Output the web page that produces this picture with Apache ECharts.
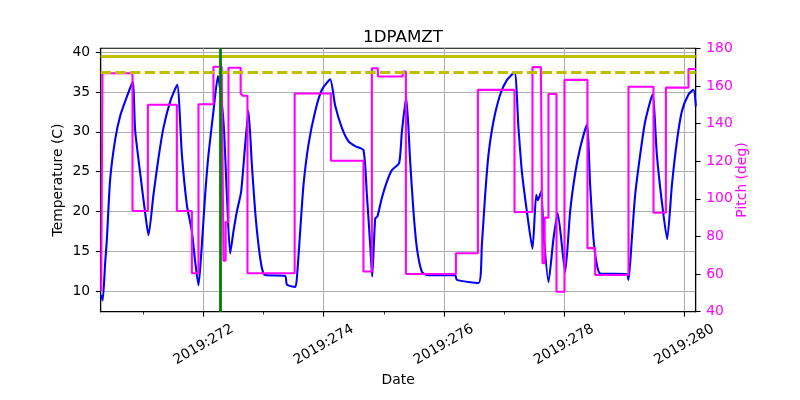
<!DOCTYPE html>
<html>
<head>
<meta charset="utf-8">
<script src="https://cdn.jsdelivr.net/npm/echarts@6/dist/echarts.min.js"></script>
<style>html,body{margin:0;padding:0;background:#fff}#c{width:800px;height:400px}</style>
</head>
<body>
<div id="c"></div>
<script>
// Temperature 1DPAMZT: [day of year 2019, degC]
const tempSeries = [
  [270.298, 9.5], [270.323, 8.8], [270.364, 13.5], [270.392, 16.4], [270.447, 24.0], [270.530, 29.0],
  [270.614, 32.0], [270.725, 34.4], [270.822, 36.3], [270.863, 30.2], [270.947, 24.8], [271.030, 19.8],
  [271.085, 17.0], [271.168, 22.1], [271.251, 26.7], [271.334, 30.5], [271.446, 33.8], [271.562, 35.9],
  [271.641, 27.1], [271.724, 20.8], [271.807, 17.5], [271.862, 13.7], [271.917, 10.7], [271.973, 15.8],
  [272.028, 22.1], [272.083, 27.1], [272.166, 32.6], [272.240, 37.0], [272.333, 31.3], [272.389, 22.1],
  [272.444, 14.7], [272.499, 17.5], [272.556, 20.0], [272.627, 22.5], [272.694, 28.4], [272.749, 32.6],
  [272.805, 25.9], [272.860, 20.0], [272.915, 15.8], [272.972, 12.9], [273.027, 12.0], [273.359, 11.9],
  [273.388, 10.8], [273.526, 10.5], [273.554, 11.6], [273.609, 17.5], [273.664, 23.3], [273.747, 28.4],
  [273.859, 32.6], [273.970, 35.3], [274.108, 36.6], [274.191, 33.3], [274.303, 30.5], [274.413, 28.8],
  [274.524, 28.2], [274.662, 27.7], [274.719, 22.1], [274.774, 15.8], [274.807, 11.8], [274.857, 19.1],
  [274.895, 19.4], [274.968, 21.7], [275.052, 23.75], [275.135, 25.2], [275.256, 26.1], [275.301, 30.0],
  [275.373, 34.4], [275.439, 26.3], [275.494, 20.0], [275.551, 15.4], [275.634, 12.4], [275.717, 12.0],
  [276.188, 12.0], [276.216, 11.4], [276.576, 11.0], [276.632, 15.8], [276.687, 22.1], [276.742, 27.1],
  [276.825, 31.3], [276.937, 34.7], [277.048, 36.5], [277.175, 37.5], [277.241, 30.5], [277.298, 25.0],
  [277.381, 20.0], [277.474, 15.3], [277.536, 22.1], [277.564, 21.4], [277.619, 22.5], [277.657, 17.5],
  [277.740, 11.1], [277.824, 16.6], [277.894, 19.8], [278.018, 12.4], [278.101, 20.0], [278.185, 24.8],
  [278.268, 28.0], [278.379, 30.9], [278.434, 23.3], [278.489, 16.6], [278.546, 13.3], [278.601, 12.2],
  [279.045, 12.1], [279.072, 11.4], [279.128, 16.6], [279.183, 22.1], [279.266, 27.1], [279.349, 31.3],
  [279.471, 34.7], [279.544, 27.1], [279.627, 21.2], [279.715, 16.5], [279.794, 23.3], [279.877, 28.8],
  [279.960, 32.6], [280.070, 34.7], [280.153, 35.3], [280.193, 33.2]
];
// Pitch: [day of change, new pitch deg] (held until next change)
const pitchSeries = [
  [270.298, 51.0], [270.319, 166.7], [270.819, 93.5], [271.075, 150.0], [271.557, 93.5], [271.807, 60.4],
  [271.917, 150.3], [272.166, 170.2], [272.303, 169.3], [272.333, 67.1], [272.369, 87.7], [272.416, 169.7],
  [272.619, 156.0], [272.652, 154.8], [272.732, 60.4], [273.517, 156.0], [274.120, 120.2], [274.662, 61.4],
  [274.802, 169.4], [274.902, 165.0], [275.314, 167.6], [275.368, 60.0], [276.200, 71.1], [276.566, 157.9],
  [277.175, 93.0], [277.474, 170.0], [277.614, 169.2], [277.641, 65.8], [277.677, 90.0], [277.740, 155.7],
  [277.874, 50.6], [278.007, 163.2], [278.389, 73.8], [278.517, 59.5], [279.072, 159.6], [279.488, 92.6],
  [279.694, 159.1], [280.070, 169.0], [280.193, 169.0]
];
const xMajorTicks = [272, 274, 276, 278, 280];
const xMinorTicks = [271, 273, 275, 277, 279];
const tempTicks = [10, 15, 20, 25, 30, 35, 40];
const planningLimit = 39.5;
const cautionLimit = 37.5;
const markerDay = 272.283;

const FONT = 'DejaVu Sans';
const chart = echarts.init(document.getElementById('c'), null, {renderer: 'canvas'});
const xBase = {
  type: 'value', min: 270.29, max: 280.19, gridIndex: 0, position: 'bottom'
};
chart.setOption({
  animation: false,
  backgroundColor: '#fff',
  title: {
    text: '1DPAMZT', left: 398, top: 24, textAlign: 'center',
    textStyle: {fontFamily: FONT, fontSize: 16.7, fontWeight: 'normal', color: '#000'}
  },
  grid: {left: 100.7, right: 104.3, top: 48.3, bottom: 88.3, show: true, borderColor: '#000', borderWidth: 1.1, backgroundColor: 'transparent'},
  xAxis: [
    Object.assign({}, xBase, {
      name: 'Date', nameLocation: 'middle', nameGap: 62, nameMoveOverlap: false,
      nameTextStyle: {fontFamily: FONT, fontSize: 13.9, color: '#000'},
      axisLine: {show: true, lineStyle: {color: '#000', width: 1.1}},
      axisTick: {show: true, length: 4.9, customValues: xMajorTicks, lineStyle: {color: '#000', width: 1.1}},
      axisLabel: {
        customValues: xMajorTicks, rotate: 30, align: 'center', verticalAlign: 'middle', margin: 33,
        fontFamily: FONT, fontSize: 13.9, color: '#000',
        formatter: v => '2019:' + Math.round(v)
      },
      splitLine: {show: true, lineStyle: {color: '#b0b0b0', width: 1.1}}
    }),
    Object.assign({}, xBase, {
      axisLine: {show: false},
      axisTick: {show: true, length: 2.8, customValues: xMinorTicks, lineStyle: {color: '#000', width: 0.8}},
      axisLabel: {show: false},
      splitLine: {show: false}
    })
  ],
  yAxis: [
    {
      type: 'value', min: 7.4, max: 40.5, position: 'left',
      name: 'Temperature (C)', nameLocation: 'middle', nameGap: 35, nameRotate: 90, nameMoveOverlap: false,
      nameTextStyle: {fontFamily: FONT, fontSize: 13.9, color: '#000'},
      axisLine: {show: true, lineStyle: {color: '#000', width: 1.1}},
      axisTick: {show: true, length: 4.9, customValues: tempTicks, lineStyle: {color: '#000', width: 1.1}},
      axisLabel: {customValues: tempTicks, margin: 10.5, fontFamily: FONT, fontSize: 13.9, color: '#000'},
      splitLine: {show: true, lineStyle: {color: '#b0b0b0', width: 1.1}}
    },
    {
      type: 'value', min: 40, max: 180, interval: 20, position: 'right',
      name: 'Pitch (deg)', nameLocation: 'middle', nameGap: 40, nameRotate: 90, nameMoveOverlap: false,
      nameTextStyle: {fontFamily: FONT, fontSize: 13.9, color: '#ff00ff'},
      axisLine: {show: true, lineStyle: {color: '#000', width: 1.1}},
      axisTick: {show: true, length: 4.9, lineStyle: {color: '#000', width: 1.1}},
      axisLabel: {margin: 10.5, fontFamily: FONT, fontSize: 13.9, color: '#ff00ff'},
      splitLine: {show: false}
    }
  ],
  series: [
    {
      type: 'line', xAxisIndex: 0, yAxisIndex: 0, data: tempSeries, showSymbol: false, symbol: 'none',
      smooth: 0.2,
      lineStyle: {color: '#0000ff', width: 2.1}, z: 2,
      markLine: {
        silent: true, symbol: 'none', label: {show: false},
        data: [
          {yAxis: planningLimit, lineStyle: {color: '#bfbf00', width: 2.8, type: 'solid'}},
          {yAxis: cautionLimit, lineStyle: {color: '#bfbf00', width: 2.8, type: [10.3, 4.4]}}
        ]
      }
    },
    {
      type: 'line', xAxisIndex: 0, yAxisIndex: 1, data: pitchSeries, step: 'end', showSymbol: false, symbol: 'none',
      lineStyle: {color: '#ff00ff', width: 2.1}, z: 3
    },
    {
      type: 'line', xAxisIndex: 0, yAxisIndex: 0, data: [], z: 4,
      markLine: {
        silent: true, symbol: 'none', label: {show: false},
        data: [{xAxis: markerDay, lineStyle: {color: '#008000', width: 2.8, type: 'solid'}}]
      }
    }
  ]
});
</script>
</body>
</html>
